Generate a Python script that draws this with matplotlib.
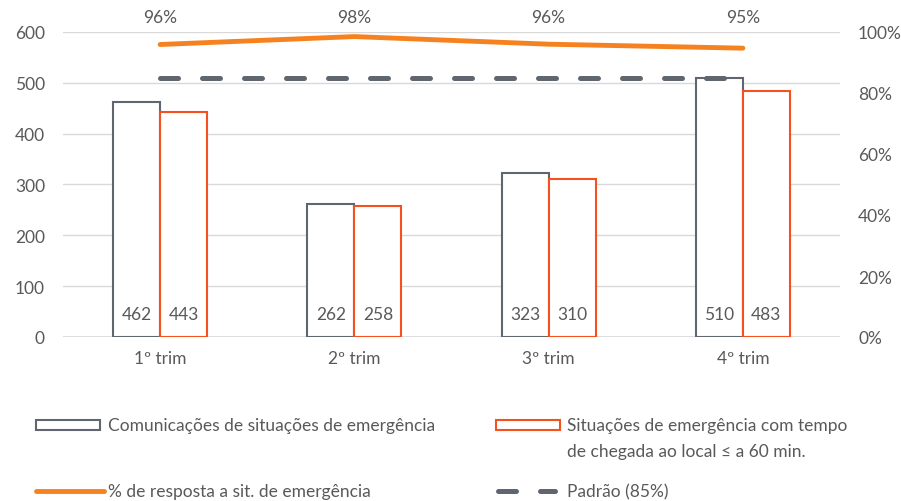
import numpy as np
import matplotlib
matplotlib.use("Agg")
import matplotlib.pyplot as plt
from matplotlib.patches import Rectangle
from matplotlib.lines import Line2D

# data
trimestres = ["1º trim", "2º trim", "3º trim", "4º trim"]
comunicacoes = [462, 262, 323, 510]
chegada_60 = [443, 258, 310, 483]
pct_resposta = [95.9, 98.5, 96.0, 94.7]
pct_labels = ["96%", "98%", "96%", "95%"]
padrao = [85, 85, 85, 85]

grey = "#5f6670"
orange_bar = "#f4511e"
orange_line = "#f5821f"
txt = "#595959"

plt.rcParams['font.family'] = ['Lato', 'DejaVu Sans']
fs = 12.5
plt.rcParams['font.size'] = fs

fig = plt.figure(figsize=(9.01, 5.02), dpi=100)
W, H = 901, 502
ax = fig.add_axes([63 / W, (H - 338) / H, (840 - 63) / W, 305 / H])
ax2 = ax.twinx()

x = np.arange(len(trimestres))
bw = 0.242

ax.bar(x - bw / 2, comunicacoes, bw, facecolor="white", edgecolor=grey, linewidth=1.5, zorder=3)
ax.bar(x + bw / 2, chegada_60, bw, facecolor="white", edgecolor=orange_bar, linewidth=1.5, zorder=3)

for i in range(len(x)):
    ax.text(x[i] - bw / 2, 45, str(comunicacoes[i]), ha="center", va="center", color=txt, zorder=4)
    ax.text(x[i] + bw / 2, 45, str(chegada_60[i]), ha="center", va="center", color=txt, zorder=4)

ax.set_ylim(0, 600)
ax.set_xlim(-0.5, 3.5)
ax.set_yticks(range(0, 601, 100))
ax.set_xticks(x)
ax.set_xticklabels(trimestres)
ax.grid(axis="y", color="#d9d9d9", linewidth=1)
ax.set_axisbelow(True)

ax2.plot(x, pct_resposta, color=orange_line, linewidth=3.5, solid_capstyle="round", zorder=5)
ax2.plot(x, padrao, color=grey, linewidth=3.6, dashes=(3.6, 4.8), dash_capstyle="round", zorder=5)
ax2.set_ylim(0, 100)
ax2.set_yticks(range(0, 101, 20))
ax2.set_yticklabels([f"{v}%" for v in range(0, 101, 20)])

for i in range(len(x)):
    ax2.annotate(pct_labels[i], (x[i], 100), xytext=(0, 11), textcoords="offset points",
                 ha="center", va="center", color=txt, annotation_clip=False)

for a in (ax, ax2):
    for s in a.spines.values():
        s.set_visible(False)
    a.tick_params(length=0, colors=txt, labelsize=fs)
ax.tick_params(axis="y", pad=13)
ax.tick_params(axis="x", pad=9)
ax2.tick_params(axis="y", pad=13)
ax.axhline(0, color="#d9d9d9", linewidth=1.2, zorder=2)

# legend (drawn by hand in figure pixels)
def fx(px):
    return px / W

def fy(py):
    return (H - py) / H

fig.add_artist(Rectangle((fx(36), fy(431)), fx(100) - fx(36), fy(421) - fy(431),
                         facecolor="white", edgecolor=grey, linewidth=1.5, transform=fig.transFigure))
fig.text(fx(108), fy(426), "Comunicações de situações de emergência", va="center", color=txt)

fig.add_artist(Rectangle((fx(496), fy(431)), fx(560) - fx(496), fy(421) - fy(431),
                         facecolor="white", edgecolor=orange_bar, linewidth=1.5, transform=fig.transFigure))
fig.text(fx(567), fy(426), "Situações de emergência com tempo", va="center", color=txt)
fig.text(fx(567), fy(452), "de chegada ao local ≤ a 60 min.", va="center", color=txt)

fig.add_artist(Line2D([fx(36), fx(104)], [fy(492), fy(492)], color=orange_line, linewidth=3.5,
                      solid_capstyle="round", transform=fig.transFigure))
fig.text(fx(108), fy(492), "% de resposta a sit. de emergência", va="center", color=txt)

fig.add_artist(Line2D([fx(498), fx(555)], [fy(492), fy(492)], color=grey, linewidth=3.6,
                      dashes=(3.6, 4.8), dash_capstyle="round", transform=fig.transFigure))
fig.text(fx(567), fy(492), "Padrão (85%)", va="center", color=txt)

fig.savefig("out.png", dpi=100, facecolor="white")
